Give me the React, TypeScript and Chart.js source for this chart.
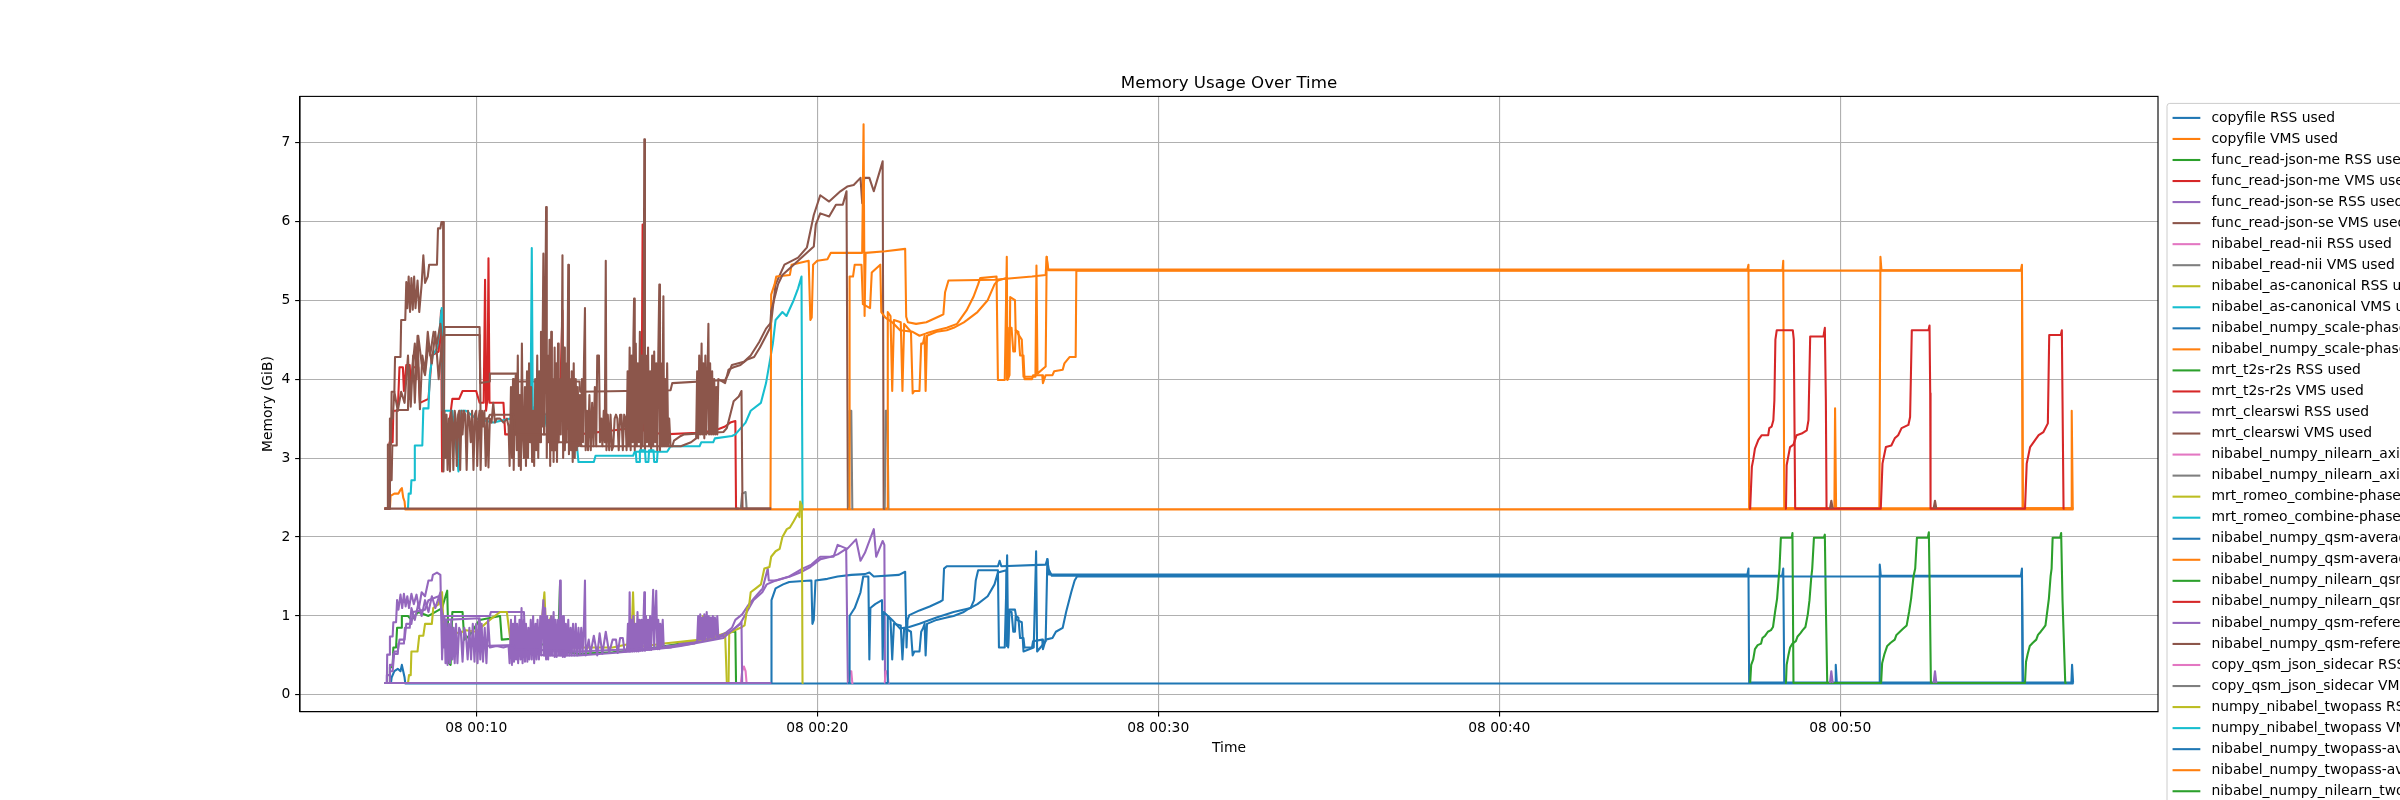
import React, { useEffect, useRef } from 'react';
import { Chart, registerables } from 'chart.js';

Chart.register(...registerables);

type Pt = [number, number | null];

// ---------- axis / label data ----------
const chartTitle = 'Memory Usage Over Time';
const xAxisTitle = 'Time';
const yAxisTitle = 'Memory (GiB)';
const xTickValues = [10, 20, 30, 40, 50]; // minutes past 00:00
const xTickLabels = ['08 00:10', '08 00:20', '08 00:30', '08 00:40', '08 00:50'];
const yTickValues = [0, 1, 2, 3, 4, 5, 6, 7];
const yTickLabels = ['0', '1', '2', '3', '4', '5', '6', '7'];
const xRange = [4.833, 59.32];
const yRange = [-0.213, 7.582];

const palette = ['#1f77b4', '#ff7f0e', '#2ca02c', '#d62728', '#9467bd', '#8c564b', '#e377c2', '#7f7f7f', '#bcbd22', '#17becf'];

const seriesNames = [
  'copyfile RSS used', 'copyfile VMS used',
  'func_read-json-me RSS used', 'func_read-json-me VMS used',
  'func_read-json-se RSS used', 'func_read-json-se VMS used',
  'nibabel_read-nii RSS used', 'nibabel_read-nii VMS used',
  'nibabel_as-canonical RSS used', 'nibabel_as-canonical VMS used',
  'nibabel_numpy_scale-phase RSS used', 'nibabel_numpy_scale-phase VMS used',
  'mrt_t2s-r2s RSS used', 'mrt_t2s-r2s VMS used',
  'mrt_clearswi RSS used', 'mrt_clearswi VMS used',
  'nibabel_numpy_nilearn_axial-mip RSS used', 'nibabel_numpy_nilearn_axial-mip VMS used',
  'mrt_romeo_combine-phase RSS used', 'mrt_romeo_combine-phase VMS used',
  'nibabel_numpy_qsm-average RSS used', 'nibabel_numpy_qsm-average VMS used',
  'nibabel_numpy_nilearn_qsm-mip RSS used', 'nibabel_numpy_nilearn_qsm-mip VMS used',
  'nibabel_numpy_qsm-reference RSS used', 'nibabel_numpy_qsm-reference VMS used',
  'copy_qsm_json_sidecar RSS used', 'copy_qsm_json_sidecar VMS used',
  'numpy_nibabel_twopass RSS used', 'numpy_nibabel_twopass VMS used',
  'nibabel_numpy_twopass-average RSS used', 'nibabel_numpy_twopass-average VMS used',
  'nibabel_numpy_nilearn_twopass-mip RSS used', 'nibabel_numpy_nilearn_twopass-mip VMS used',
  'nibabel_numpy_twopass-reference RSS used', 'nibabel_numpy_twopass-reference VMS used',
];

// ---------- series values: [minutes past 00:00, GiB] ----------
const copyfileRss: Pt[] = [[7.31,0.15],[7.5,0.15],[7.52,0.22],[7.6,0.3],[7.7,0.33],[7.78,0.3],[7.82,0.38],[7.86,0.3],[7.9,0.22],[7.92,0.145],[56.84,0.145]];
const copyfileVms: Pt[] = [[7.31,2.36],[7.47,2.36],[7.49,2.52],[7.6,2.55],[7.72,2.55],[7.78,2.6],[7.82,2.62],[7.86,2.5],[7.9,2.45],[7.92,2.35],[56.84,2.35]];

const jsonMeRss: Pt[] = [[7.31,0.15],[7.45,0.15],[7.47,0.35],[7.55,0.35],[7.57,0.6],[7.65,0.6],[7.68,0.85],[7.8,0.85],[7.82,1.0],[8.0,1.0],[8.1,0.95],[8.3,1.05],[8.6,1.0],[9.0,1.1],[9.1,1.25],[9.15,1.32],[9.2,0.4],[9.25,0.38],[9.3,1.05],[9.6,1.05],[9.65,0.7],[9.8,0.75],[10.1,0.95],[10.7,1.0],[10.75,0.7],[11.3,0.72],[11.8,0.65],[12.4,0.6],[12.46,1.43],[12.5,0.55],[13.0,0.52],[14.0,0.54],[15.0,0.58],[16.0,0.65],[17.0,0.72],[17.5,0.8],[17.6,0.8],[17.62,0.15],[17.7,0.15]];
const jsonMeVms: Pt[] = [[7.31,2.36],[7.45,2.36],[7.46,3.2],[7.55,3.2],[7.57,3.6],[7.7,3.6],[7.75,4.15],[7.85,4.15],[7.88,3.85],[7.95,4.18],[8.05,4.18],[8.08,3.9],[8.15,4.15],[8.3,4.15],[8.35,3.7],[8.6,3.75],[8.7,4.3],[8.9,4.35],[8.97,4.87],[9.0,2.83],[9.05,3.3],[9.2,3.4],[9.3,3.75],[9.5,3.75],[9.6,3.85],[10.0,3.85],[10.1,3.7],[10.22,3.7],[10.26,5.26],[10.29,3.6],[10.33,3.75],[10.36,5.53],[10.39,3.7],[10.8,3.7],[10.85,3.3],[11.2,3.3],[11.4,3.5],[12.0,3.55],[12.45,3.6],[12.53,4.87],[12.56,3.4],[13.0,3.3],[14.0,3.35],[14.85,3.4],[14.88,5.96],[14.91,3.35],[15.5,3.3],[16.5,3.32],[17.0,3.35],[17.3,3.4],[17.45,3.45],[17.6,3.47],[17.62,2.36],[17.7,2.36]];

const jsonSeRss: Pt[] = [[7.31,0.15],[7.38,0.15],[7.39,0.51],[7.45,0.51],[7.47,0.74],[7.55,0.74],[7.57,0.92],[7.65,0.92],[7.68,1.2],[7.72,1.08],[7.78,1.27],[7.83,1.1],[7.88,1.28],[7.93,1.12],[7.98,1.25],[8.03,1.1],[8.1,1.28],[8.17,1.15],[8.25,1.27],[8.32,1.1],[8.4,1.3],[8.5,1.25],[8.6,1.45],[8.7,1.45],[8.73,1.52],[8.85,1.55],[8.95,1.52],[9.0,0.45],[9.05,1.0],[10.4,1.0],[10.43,1.05],[11.4,1.05],[11.45,0.55],[12.0,0.5],[13.0,0.5],[14.0,0.53],[15.0,0.57],[15.7,0.6],[16.0,0.65],[16.5,0.68],[17.0,0.72],[17.3,0.75],[17.47,0.8],[17.74,0.9],[17.87,1.0],[18.13,1.2],[18.39,1.3],[18.52,1.4],[18.78,1.45],[19.18,1.5],[19.57,1.6],[19.83,1.65],[20.09,1.75],[20.48,1.75],[20.6,1.9],[20.88,1.85],[21.14,1.97],[21.27,1.7],[21.4,1.8],[21.66,2.1],[21.73,1.75],[21.92,1.95],[21.97,1.9],[21.99,0.15],[22.05,0.15]];
const jsonSeVms: Pt[] = [[7.31,2.36],[7.4,2.36],[7.41,3.17],[7.5,3.17],[7.52,3.84],[7.6,3.84],[7.62,4.28],[7.78,4.28],[7.8,4.75],[7.92,4.75],[7.95,5.23],[7.98,4.9],[8.02,5.3],[8.06,4.85],[8.1,5.28],[8.14,4.88],[8.18,5.3],[8.22,4.9],[8.28,5.25],[8.33,4.85],[8.4,5.2],[8.45,5.57],[8.5,5.22],[8.58,5.3],[8.62,5.45],[8.85,5.45],[8.88,5.91],[8.95,5.91],[8.98,5.99],[9.03,5.99],[9.05,3.0],[9.07,4.66],[10.1,4.66],[10.12,3.95],[10.38,3.97],[10.4,4.07],[11.2,4.07],[11.22,3.97],[13.03,3.97],[13.05,3.84],[15.7,3.86],[15.75,3.95],[17.3,3.99],[17.38,4.05],[17.5,4.18],[17.85,4.22],[18.05,4.3],[18.3,4.47],[18.5,4.64],[18.65,4.72],[18.78,5.2],[19.04,5.45],[19.44,5.54],[19.7,5.67],[19.9,6.08],[20.09,6.33],[20.35,6.25],[20.68,6.38],[20.88,6.44],[21.07,6.46],[21.27,6.55],[21.32,6.23],[21.38,6.55],[21.53,6.55],[21.66,6.38],[21.86,6.67],[21.92,6.76],[21.95,2.36],[22.0,2.36]];

const readNiiRss: Pt[] = [[17.76,0.15],[17.8,0.3],[17.85,0.36],[17.9,0.3],[17.93,0.15],[17.96,0.15]];
const readNiiVms: Pt[] = [[17.76,2.36],[17.8,2.55],[17.9,2.57],[17.93,2.36],[17.96,2.36]];

const asCanonicalRss: Pt[] = [[8.0,0.15],[8.03,0.25],[8.08,0.25],[8.1,0.55],[8.28,0.55],[8.33,0.75],[8.45,0.75],[8.5,0.9],[8.7,0.9],[8.74,1.1],[8.9,1.15],[8.94,1.25],[9.0,1.3],[9.05,0.75],[9.3,0.8],[9.5,0.78],[9.7,0.82],[10.0,0.8],[10.4,0.95],[10.7,1.05],[10.9,1.05],[11.0,0.7],[11.5,0.75],[11.9,0.8],[12.0,1.3],[12.05,0.8],[12.2,1.0],[12.25,0.6],[13.0,0.6],[14.0,0.6],[14.55,0.65],[14.6,1.3],[14.65,0.6],[15.5,0.65],[16.6,0.7],[16.65,1.0],[16.7,0.7],[17.3,0.78],[17.35,0.15],[17.4,0.15]];
const asCanonicalVms: Pt[] = [[8.0,2.36],[8.02,2.55],[8.08,2.55],[8.1,2.72],[8.18,2.72],[8.2,3.16],[8.42,3.16],[8.45,3.63],[8.6,3.63],[8.64,4.05],[8.72,4.3],[8.85,4.39],[8.92,4.6],[8.99,4.9],[9.02,3.6],[9.3,3.6],[9.48,2.83],[9.52,3.6],[9.7,3.6],[10.0,3.5],[10.5,3.45],[11.0,3.5],[11.55,3.7],[11.6,3.9],[11.63,5.66],[11.66,3.6],[11.9,3.8],[12.0,3.4],[12.2,3.9],[12.4,3.5],[12.6,3.7],[12.9,3.4],[13.0,2.95],[13.45,2.95],[13.5,3.03],[14.6,3.03],[14.65,3.08],[15.6,3.08],[15.7,3.15],[16.55,3.15],[16.6,3.2],[16.95,3.2],[17.0,3.25],[17.5,3.28],[17.6,3.3],[17.9,3.45],[18.05,3.6],[18.35,3.7],[18.5,3.95],[18.6,4.2],[18.7,4.45],[18.78,4.75],[18.98,4.85],[19.1,4.8],[19.31,5.0],[19.44,5.15],[19.54,5.3],[19.57,2.36],[19.6,2.36]];

const scalePhaseRss: Pt[] = [[18.6,0.15],[18.65,0.15],[18.66,1.2],[18.78,1.35],[19.0,1.4],[19.18,1.43],[19.8,1.45],[19.83,1.45],[19.86,0.9],[19.9,0.95],[19.95,1.45],[20.3,1.47],[20.6,1.5],[21.0,1.52],[21.4,1.53],[21.53,1.55],[21.66,1.5],[22.4,1.52],[22.58,1.56],[22.62,0.6],[22.65,0.95],[22.7,1.01],[23.0,1.07],[23.3,1.12],[23.6,1.18],[23.68,1.2],[23.72,1.6],[23.8,1.63],[25.3,1.63],[25.35,1.7],[25.4,1.63],[26.7,1.65],[26.75,1.72],[26.78,1.6],[26.88,1.51],[48.3,1.51],[48.33,1.6],[48.36,0.15],[51.14,0.15],[51.16,1.65],[51.19,1.51],[55.3,1.51],[55.33,1.6],[55.36,0.15],[56.84,0.15]];
const scalePhaseVms: Pt[] = [[18.6,2.36],[18.63,2.36],[18.65,5.07],[18.75,5.2],[18.8,5.3],[19.2,5.32],[19.25,5.45],[19.75,5.5],[19.8,4.75],[19.84,4.78],[19.88,5.45],[20.0,5.5],[20.3,5.52],[20.4,5.6],[21.32,5.6],[21.36,7.23],[21.39,4.8],[21.42,5.6],[22.0,5.62],[22.58,5.65],[22.61,4.79],[22.66,4.72],[22.9,4.7],[23.2,4.72],[23.6,4.8],[23.7,4.82],[23.75,5.1],[23.85,5.25],[25.2,5.26],[26.3,5.3],[26.7,5.32],[26.73,5.55],[26.78,5.38],[48.31,5.38],[48.33,5.5],[48.36,2.36],[51.15,2.36],[51.18,5.55],[51.21,5.38],[55.3,5.38],[55.33,5.45],[55.36,2.36],[56.84,2.36]];

const t2sRss: Pt[] = [];
const t2sVms: Pt[] = [];

const clearswiRss: Pt[] = [[7.37,0.15],[7.38,0.25],[7.45,0.25],[7.47,0.38],[7.55,0.38],[7.57,0.52],[7.7,0.52],[7.72,0.65],[7.88,0.65],[7.91,0.85],[8.05,0.85],[8.1,1.1],[8.2,0.95],[8.3,1.15],[8.4,1.0],[8.5,1.2],[8.6,1.05],[8.7,1.25],[8.8,1.1],[8.95,1.3],
  [9.04,0.6],[9.07,1.0],[9.1,0.4],[9.13,0.95],[9.16,0.38],[9.2,0.9],[9.23,0.4],[9.27,0.95],[9.3,0.45],[9.34,0.85],[9.37,0.4],[9.41,0.9],[9.45,0.4],[9.5,0.85],[9.55,0.8],[9.6,0.42],[9.65,0.85],[9.7,0.75],[9.75,0.45],[9.8,0.85],[9.85,0.45],[9.9,0.9],[9.95,0.42],[10.0,0.9],[10.04,0.4],[10.08,0.95],[10.12,0.45],[10.16,0.9],[10.2,0.42],[10.25,0.85],[10.3,0.4],[10.35,0.95],[10.4,0.6],[10.6,0.62],[10.8,0.6],[10.95,0.62],
  [10.98,0.4],[11.02,0.95],[11.05,0.38],[11.08,0.9],[11.11,0.42],[11.14,1.0],[11.17,0.45],[11.2,0.9],[11.23,0.4],[11.27,0.95],[11.3,0.45],[11.33,1.1],[11.36,0.4],[11.4,0.95],[11.43,0.42],[11.46,0.9],[11.5,0.42],[11.53,0.85],[11.56,0.45],[11.6,0.95],[11.63,0.45],[11.67,1.0],[11.7,0.4],[11.74,0.9],[11.77,0.45],[11.8,0.95],[11.84,0.45],[11.88,1.0],[11.91,0.5],[11.94,1.0],[11.97,1.2],[11.99,0.5],[12.02,1.1],[12.05,0.45],[12.08,1.0],[12.11,0.45],[12.14,0.95],[12.17,0.5],[12.2,1.0],[12.23,0.5],[12.27,1.05],[12.3,0.48],[12.33,0.95],[12.36,0.48],[12.4,0.95],[12.43,0.5],[12.46,1.45],[12.48,0.5],[12.51,1.0],[12.54,0.48],[12.57,1.0],[12.6,0.48],[12.63,0.9],[12.66,0.5],[12.7,0.95],[12.73,0.5],[12.77,0.85],[12.8,0.5],[12.84,0.9],[12.88,0.5],[12.92,0.9],[12.96,0.5],[13.0,0.85],[13.04,0.52],[13.08,0.85],[13.12,0.52],[13.16,0.9],[13.19,1.45],[13.21,0.5],
  [13.3,0.7],[13.35,0.52],[13.45,0.75],[13.55,0.5],[13.62,0.78],[13.7,0.52],[13.8,0.8],[13.9,0.53],[14.0,0.7],[14.1,0.7],[14.15,0.53],[14.22,0.72],[14.3,0.72],[14.35,0.55],
  [14.42,0.55],[14.45,0.9],[14.48,0.55],[14.5,1.3],[14.52,0.55],[14.55,0.95],[14.58,0.55],[14.61,1.0],[14.64,0.55],[14.67,0.9],[14.7,0.55],[14.73,1.05],[14.76,0.55],[14.79,0.95],[14.82,0.56],[14.85,0.95],[14.88,0.56],[14.91,1.0],[14.93,1.3],[14.95,0.56],[14.98,1.0],[15.01,0.57],[15.04,0.95],[15.07,0.57],[15.1,1.0],[15.13,0.57],[15.16,0.95],[15.19,1.33],[15.22,0.6],[15.25,1.0],[15.28,1.32],[15.31,0.58],[15.34,0.95],[15.37,0.58],[15.4,0.9],[15.43,0.6],[15.47,0.95],[15.5,0.6],[15.6,0.62],[16.0,0.63],[16.4,0.65],
  [16.48,0.68],[16.51,1.0],[16.54,0.7],[16.57,1.02],[16.6,0.7],[16.63,0.98],[16.66,0.7],[16.69,1.02],[16.72,0.7],[16.76,1.05],[16.79,0.7],[16.82,1.0],[16.85,0.72],[16.88,0.98],[16.91,0.72],[16.94,1.0],[16.97,0.72],[17.0,0.98],[17.04,0.74],[17.07,1.0],[17.1,0.74],
  [17.3,0.78],[17.5,0.85],[17.6,0.95],[17.8,1.02],[18.0,1.15],[18.2,1.25],[18.4,1.35],[18.55,1.6],[18.58,1.45],[18.8,1.45],[19.2,1.5],[19.5,1.55],[19.8,1.62],[20.1,1.72],[20.4,1.75],[20.6,1.78],[20.85,1.85],[20.9,0.15],[20.95,0.15]];
const clearswiVms: Pt[] = [[7.45,2.36],[7.47,3.5],[7.55,3.5],[7.6,3.84],[7.7,3.6],[7.8,3.84],[7.9,3.7],[8.0,4.3],[8.05,3.75],[8.1,4.0],[8.2,4.45],[8.25,4.0],[8.3,4.55],[8.4,4.2],[8.5,4.05],[8.6,4.45],[8.7,4.2],[8.8,4.6],[8.9,4.0],[9.0,4.5],
  [9.04,2.83],[9.07,3.6],[9.1,3.0],[9.13,3.55],[9.16,2.85],[9.2,3.5],[9.23,2.83],[9.27,3.6],[9.3,3.45],[9.33,2.85],[9.37,3.6],[9.4,3.5],[9.43,2.9],[9.47,3.55],[9.5,3.6],[9.53,2.85],[9.57,3.6],[9.6,3.3],[9.64,3.6],[9.68,3.55],[9.72,2.85],[9.76,3.6],[9.8,3.5],[9.84,3.2],[9.88,3.6],[9.92,2.85],[9.96,3.55],[10.0,3.6],[10.03,2.9],[10.07,3.5],[10.1,3.6],[10.13,2.85],[10.17,3.6],[10.2,3.4],[10.24,3.6],[10.28,2.9],[10.32,3.5],[10.36,2.88],[10.4,3.5],[10.45,3.45],[10.5,3.7],[10.55,3.45],[10.6,3.5],[10.7,3.5],[10.8,3.45],[10.9,3.5],[10.95,3.4],
  [10.98,2.9],[11.02,3.9],[11.05,3.0],[11.08,4.0],[11.1,2.85],[11.13,3.7],[11.16,4.05],[11.19,3.1],[11.22,4.3],[11.25,2.9],[11.28,3.8],[11.31,2.85],[11.34,4.45],[11.37,3.3],[11.4,3.0],[11.43,3.9],[11.46,2.9],[11.49,4.1],[11.52,3.0],[11.55,4.2],[11.58,3.2],[11.61,3.9],[11.64,2.95],[11.67,3.6],[11.7,2.9],[11.73,4.0],[11.76,3.1],[11.79,4.3],[11.82,3.0],[11.85,4.1],[11.88,3.2],[11.9,4.6],[11.93,3.4],[11.95,4.55],[11.97,5.59],[11.99,3.3],[12.02,4.5],[12.05,6.18],[12.07,3.0],[12.1,4.3],[12.12,3.2],[12.15,4.5],[12.17,2.9],[12.2,4.6],[12.22,3.1],[12.25,4.0],[12.27,2.95],[12.3,4.4],[12.32,3.1],[12.35,4.2],[12.37,2.95],[12.4,4.45],[12.42,3.2],[12.45,4.0],[12.48,3.3],[12.51,4.3],[12.53,5.57],[12.55,3.0],[12.58,4.4],[12.6,3.1],[12.63,4.2],[12.65,3.2],[12.68,4.3],[12.7,5.45],[12.72,3.05],[12.75,4.0],[12.78,3.1],[12.8,4.1],[12.83,2.95],[12.86,4.2],[12.89,3.0],[12.92,4.0],[12.95,3.1],[12.98,3.9],[13.01,3.15],[13.04,3.8],[13.07,3.15],[13.1,4.0],[13.13,3.2],[13.16,4.2],[13.19,4.9],[13.21,3.1],
  [13.25,3.6],[13.28,3.1],[13.32,3.8],[13.36,3.1],[13.4,3.7],[13.44,3.15],[13.48,3.9],[13.52,3.15],[13.55,4.3],[13.6,4.3],[13.63,3.2],[13.67,3.5],[13.7,3.15],[13.74,3.6],[13.77,3.2],[13.8,5.5],[13.82,3.1],[13.86,3.55],[13.9,3.1],[13.94,3.55],[13.98,3.1],[14.02,3.15],[14.06,3.5],[14.1,3.55],[14.14,3.5],[14.18,3.1],[14.22,3.55],[14.26,3.55],[14.3,3.1],[14.34,3.55],[14.38,3.5],
  [14.41,3.1],[14.44,4.1],[14.47,3.15],[14.5,4.4],[14.53,3.1],[14.56,4.3],[14.59,3.2],[14.61,4.5],[14.63,5.02],[14.65,3.1],[14.68,4.45],[14.71,3.15],[14.74,4.2],[14.77,3.2],[14.8,4.6],[14.83,3.1],[14.86,4.3],[14.88,3.15],[14.91,4.5],[14.93,7.04],[14.95,3.1],[14.98,4.3],[15.01,3.2],[15.04,4.4],[15.07,3.15],[15.1,4.1],[15.13,3.1],[15.16,4.3],[15.19,3.15],[15.22,4.35],[15.25,3.2],[15.28,4.2],[15.31,3.1],[15.34,4.3],[15.37,5.2],[15.39,3.1],[15.42,4.2],[15.45,3.15],[15.49,5.05],[15.51,3.15],[15.54,4.0],[15.57,3.15],[15.6,4.2],[15.63,3.15],[15.66,3.5],[15.7,3.15],[16.0,3.15],[16.3,3.2],
  [16.45,3.25],[16.48,4.1],[16.51,3.25],[16.54,4.3],[16.57,3.3],[16.61,4.45],[16.63,3.3],[16.66,4.2],[16.69,3.25],[16.72,4.3],[16.75,3.3],[16.78,4.0],[16.81,4.7],[16.83,3.3],[16.86,4.2],[16.89,3.3],[16.92,4.1],[16.95,3.3],[16.98,4.0],[17.01,3.3],[17.04,3.9],[17.07,3.3],[17.1,4.0],
  [17.3,3.95],[17.4,4.12],[17.55,4.15],[17.75,4.18],[17.95,4.25],[18.15,4.28],[18.32,4.4],[18.5,4.55],[18.62,4.65],[18.65,4.86],[18.85,5.2],[18.98,5.32],[19.31,5.45],[19.57,5.55],[19.9,5.68],[19.96,5.96],[20.09,6.1],[20.35,6.06],[20.55,6.21],[20.75,6.21],[20.86,6.38],[20.9,2.36],[20.95,2.36]];

const axialRss: Pt[] = [[20.92,0.15],[20.95,0.3],[21.0,0.3],[21.03,0.15],[21.06,0.15]];
const axialVms: Pt[] = [[20.92,2.36],[20.95,3.6],[21.0,3.6],[21.03,2.36],[21.06,2.36]];

const romeoRss: Pt[] = [[17.4,0.15],[17.42,0.78],[17.6,0.82],[17.75,0.85],[17.87,0.88],[17.95,1.1],[18.0,1.12],[18.05,1.3],[18.2,1.35],[18.35,1.4],[18.45,1.6],[18.6,1.62],[18.65,1.75],[18.78,1.82],[18.9,1.85],[18.98,2.0],[19.11,2.1],[19.2,2.12],[19.31,2.2],[19.44,2.3],[19.48,2.25],[19.5,2.45],[19.55,2.4],[19.57,0.15],[19.6,0.15]];
const romeoVms: Pt[] = [[14.68,3.08],[14.7,2.95],[14.78,2.95],[14.8,3.1],[14.95,3.1],[14.97,2.95],[15.05,2.95],[15.07,3.1],[15.2,3.1],[15.22,2.95],[15.3,2.95],[15.32,3.08]];

const qsmAverageRss: Pt[] = [[20.9,0.15],[20.94,0.15],[20.95,1.0],[21.1,1.1],[21.27,1.3],[21.35,1.5],[21.5,1.5],[21.53,0.45],[21.56,1.1],[21.7,1.15],[21.9,1.2],[21.92,0.45],[21.95,1.05],[22.2,0.95],[22.43,0.84],[22.7,0.86],[23.0,0.9],[23.5,0.98],[24.0,1.05],[24.5,1.1],[24.6,1.2],[24.65,1.45],[24.72,1.58],[25.3,1.58],[25.33,0.6],[25.5,0.6],[25.57,1.77],[25.6,0.6],[25.64,1.08],[25.8,1.08],[25.85,0.95],[26.0,0.92],[26.05,0.55],[26.35,0.6],[26.42,1.82],[26.45,0.55],[26.7,0.68],[26.75,1.72],[26.8,1.525],[47.28,1.525],[47.31,1.6],[47.33,0.155],[49.85,0.155],[49.87,0.38],[49.9,0.155],[56.78,0.155],[56.8,0.38],[56.83,0.155],[56.84,0.155]];
const qsmAverageVms: Pt[] = [[20.9,2.36],[20.94,2.36],[20.95,5.3],[21.05,5.3],[21.1,5.45],[21.3,5.45],[21.34,4.95],[21.55,4.9],[21.6,5.35],[21.85,5.45],[21.88,4.85],[22.0,4.78],[22.2,4.72],[22.43,4.62],[22.8,4.6],[23.0,4.55],[23.2,4.58],[23.5,4.62],[23.8,4.65],[24.1,4.7],[24.38,4.87],[24.58,5.04],[24.72,5.2],[24.78,5.28],[25.26,5.3],[25.3,3.99],[25.5,3.99],[25.56,5.55],[25.58,3.99],[25.64,4.05],[25.66,5.04],[25.8,5.0],[25.82,4.62],[26.0,4.5],[26.05,4.03],[26.4,4.03],[26.43,5.44],[26.46,4.07],[26.7,4.16],[26.73,5.55],[26.76,5.39],[47.28,5.39],[47.31,5.45],[47.33,2.365],[49.83,2.365],[49.85,3.63],[49.88,2.365],[56.77,2.365],[56.79,3.6],[56.82,2.365],[56.84,2.365]];

const nilearnQsmRss: Pt[] = [[48.38,0.15],[48.41,0.15],[48.43,0.38],[48.48,0.5],[48.53,0.6],[48.6,0.65],[48.7,0.68],[48.75,0.74],[48.83,0.78],[48.9,0.82],[48.98,0.86],[49.05,1.02],[49.1,1.2],[49.15,1.48],[49.18,1.6],[49.23,1.99],[49.52,1.99],[49.55,2.03],[49.58,1.12],[49.62,0.15],[49.66,0.15]];
const nilearnQsmVms: Pt[] = [[48.38,2.36],[48.41,2.36],[48.43,2.91],[48.53,3.14],[48.63,3.17],[48.72,3.29],[48.87,3.31],[49.02,3.35],[49.07,3.48],[49.12,4.54],[49.51,4.54],[49.55,4.65],[49.58,3.73],[49.6,2.36],[49.64,2.36]];

const qsmReferenceRss: Pt[] = [[7.31,0.15],[7.45,0.15],[7.47,0.3],[7.55,0.3],[7.6,0.55],[7.7,0.55],[7.75,0.7],[7.9,0.7],[7.95,0.9],[8.1,0.9],[8.15,1.05],[8.5,1.08],[8.6,1.2],[8.9,1.25],[9.05,0.95],[10.1,0.97],[10.15,0.62],[11.1,0.63],[11.15,0.58],[13.0,0.55],[15.7,0.6],[16.0,0.62],[17.25,0.72],[17.45,0.8],[17.6,0.85],[17.78,0.92],[17.8,0.15],[18.65,0.15]];
const qsmReferenceVms: Pt[] = [[7.31,2.36],[7.45,2.36],[7.46,2.72],[7.52,2.72],[7.54,3.16],[7.65,3.16],[7.67,3.61],[8.0,3.61],[8.02,4.15],[8.08,3.65],[8.15,4.3],[8.2,3.7],[8.28,4.55],[8.35,3.62],[8.42,4.3],[8.5,4.1],[8.58,4.6],[8.65,4.3],[8.75,4.6],[8.85,4.45],[8.95,4.7],[9.0,4.5],[9.08,4.56],[10.1,4.56],[10.13,3.5],[10.35,3.5],[10.4,3.55],[11.1,3.55],[11.15,3.3],[12.1,3.3],[12.15,3.2],[13.05,3.2],[13.1,3.15],[15.75,3.15],[15.8,3.22],[16.0,3.28],[16.1,3.3],[17.25,3.33],[17.35,3.38],[17.45,3.55],[17.55,3.72],[17.7,3.78],[17.78,3.85],[17.81,2.36],[18.65,2.36]];

const copyJsonRss: Pt[] = [[21.98,0.15],[22.01,0.3],[22.06,0.3],[22.09,0.15],[22.12,0.15]];
const copyJsonVms: Pt[] = [[21.98,2.36],[22.01,3.6],[22.06,3.6],[22.09,2.36],[22.12,2.36]];

const twopassRss: Pt[] = [];
const twopassVms: Pt[] = [];

const twopassAvRss: Pt[] = [[22.0,0.15],[22.05,0.15],[22.07,1.0],[22.15,0.95],[22.2,0.45],[22.25,0.9],[22.45,0.88],[22.5,0.45],[22.55,0.85],[22.75,0.8],[22.8,0.5],[22.85,0.55],[23.0,0.55],[23.05,0.8],[23.1,0.84],[23.15,0.9],[23.18,0.5],[23.22,0.9],[23.5,0.95],[23.8,0.98],[24.0,1.0],[24.3,1.05],[24.4,1.08],[24.7,1.15],[25.0,1.25],[25.2,1.4],[25.3,1.55],[25.55,1.58],[25.56,0.62],[25.6,0.62],[25.63,1.05],[25.7,1.05],[25.75,0.8],[25.8,0.8],[25.82,1.0],[25.9,0.98],[25.95,0.72],[26.05,0.72],[26.08,0.6],[26.3,0.6],[26.33,0.68],[26.6,0.7],[26.62,0.58],[26.7,0.7],[26.9,0.72],[27.0,0.8],[27.2,0.85],[27.3,1.05],[27.45,1.3],[27.55,1.45],[27.62,1.5],[55.33,1.5],[55.35,0.15],[56.84,0.15]];
const twopassAvVms: Pt[] = [[22.0,2.36],[22.05,2.36],[22.07,4.85],[22.15,4.8],[22.2,3.85],[22.25,4.75],[22.45,4.72],[22.5,3.85],[22.55,4.7],[22.75,4.6],[22.8,3.82],[22.85,3.85],[23.0,3.85],[23.05,4.45],[23.1,4.45],[23.15,4.55],[23.18,3.85],[23.22,4.55],[23.5,4.6],[23.8,4.62],[24.0,4.65],[24.3,4.72],[24.4,4.75],[24.7,4.85],[25.0,5.0],[25.2,5.2],[25.3,5.25],[25.55,5.28],[25.56,4.0],[25.6,4.0],[25.63,4.65],[25.7,4.65],[25.75,4.35],[25.8,4.35],[25.82,4.62],[25.9,4.6],[25.95,4.3],[26.05,4.3],[26.08,4.0],[26.3,4.0],[26.33,4.05],[26.6,4.05],[26.62,3.95],[26.7,4.05],[26.9,4.05],[26.95,4.1],[27.2,4.12],[27.25,4.2],[27.4,4.28],[27.58,4.28],[27.6,5.375],[55.33,5.375],[55.35,2.36],[56.84,2.36]];

const nilearnTwoRss: Pt[] = [[47.36,0.15],[47.39,0.38],[47.45,0.45],[47.5,0.58],[47.58,0.63],[47.68,0.65],[47.72,0.72],[47.8,0.75],[47.88,0.8],[47.97,0.82],[48.03,0.86],[48.09,1.05],[48.15,1.22],[48.2,1.5],[48.22,1.6],[48.26,1.99],[48.58,1.99],[48.6,2.05],[48.63,0.15],[51.2,0.15],[51.23,0.4],[51.3,0.52],[51.38,0.62],[51.48,0.66],[51.6,0.7],[51.65,0.76],[51.75,0.8],[51.85,0.84],[51.95,0.88],[52.02,1.05],[52.08,1.22],[52.15,1.5],[52.2,1.6],[52.25,1.99],[52.57,1.99],[52.6,2.06],[52.63,1.2],[52.66,0.15],[55.42,0.15],[55.45,0.42],[55.5,0.52],[55.56,0.62],[55.65,0.66],[55.75,0.7],[55.8,0.76],[55.88,0.8],[55.95,0.84],[56.02,0.88],[56.07,1.05],[56.12,1.22],[56.17,1.5],[56.2,1.6],[56.23,1.99],[56.45,1.99],[56.48,2.05],[56.52,1.2],[56.6,0.15],[56.64,0.15]];
const nilearnTwoVms: Pt[] = [[47.33,2.36],[47.36,2.36],[47.41,2.89],[47.45,2.98],[47.5,3.12],[47.6,3.23],[47.7,3.29],[47.89,3.29],[47.92,3.38],[47.99,3.4],[48.04,3.48],[48.07,3.73],[48.1,4.5],[48.14,4.62],[48.61,4.62],[48.64,4.5],[48.68,2.36],[51.19,2.36],[51.24,2.93],[51.34,3.14],[51.5,3.16],[51.6,3.25],[51.7,3.29],[51.8,3.38],[52.0,3.42],[52.05,3.52],[52.1,4.62],[52.59,4.62],[52.62,4.68],[52.64,3.82],[52.65,2.36],[55.42,2.36],[55.47,2.93],[55.57,3.14],[55.72,3.23],[55.82,3.29],[55.96,3.33],[56.09,3.44],[56.13,4.56],[56.47,4.56],[56.5,4.62],[56.52,3.73],[56.55,2.36],[56.58,2.36]];

const twopassRefRss: Pt[] = [[7.31,0.15],[18.65,0.15],[18.66,null],[49.7,0.15],[49.74,0.3],[49.78,0.15],[49.8,null],[52.74,0.15],[52.78,0.3],[52.82,0.15]];
const twopassRefVms: Pt[] = [[7.31,2.36],[18.65,2.36],[18.66,null],[49.7,2.36],[49.74,2.46],[49.78,2.36],[49.8,null],[52.74,2.36],[52.78,2.46],[52.82,2.36]];

const seriesValues: Pt[][] = [
  copyfileRss, copyfileVms, jsonMeRss, jsonMeVms, jsonSeRss, jsonSeVms,
  readNiiRss, readNiiVms, asCanonicalRss, asCanonicalVms, scalePhaseRss, scalePhaseVms,
  t2sRss, t2sVms, clearswiRss, clearswiVms, axialRss, axialVms, romeoRss, romeoVms,
  qsmAverageRss, qsmAverageVms, nilearnQsmRss, nilearnQsmVms, qsmReferenceRss, qsmReferenceVms,
  copyJsonRss, copyJsonVms, twopassRss, twopassVms, twopassAvRss, twopassAvVms,
  nilearnTwoRss, nilearnTwoVms, twopassRefRss, twopassRefVms,
];

// ---------- styling ----------
const FONT = 'DejaVu Sans';
const PT = 100 / 72;
const tickFont = { family: FONT, size: 10 * PT, lineHeight: 1.2 };
const labelFont = { family: FONT, size: 10 * PT, lineHeight: 1.2 };
const titleFont = { family: FONT, size: 12 * PT, lineHeight: 1.2, weight: 'normal' as const };

const framePlugin = {
  id: 'mplFrame',
  afterDatasetsDraw(chart: any) {
    const { ctx, chartArea: a } = chart;
    ctx.save();
    ctx.strokeStyle = '#000';
    ctx.lineWidth = 0.8 * PT;
    ctx.strokeRect(a.left, a.top, a.right - a.left, a.bottom - a.top);
    ctx.restore();
  },
};

const legendPlugin = {
  id: 'mplLegend',
  afterDraw(chart: any) {
    const { ctx, chartArea: a } = chart;
    const em = 10 * PT;
    const left = a.right + 9;
    const top = a.top + 7;
    ctx.save();
    const w = 700, h = 900, r = 0.2 * em;
    ctx.beginPath();
    ctx.moveTo(left + r, top);
    ctx.lineTo(left + w, top);
    ctx.lineTo(left + w, top + h);
    ctx.lineTo(left, top + h);
    ctx.lineTo(left, top + r);
    ctx.quadraticCurveTo(left, top, left + r, top);
    ctx.closePath();
    ctx.fillStyle = 'rgba(255,255,255,0.8)';
    ctx.fill();
    ctx.strokeStyle = '#cccccc';
    ctx.lineWidth = 1;
    ctx.stroke();
    ctx.font = `${em}px "${FONT}"`;
    ctx.textBaseline = 'middle';
    ctx.textAlign = 'left';
    chart.data.datasets.forEach((ds: any, i: number) => {
      const cy = top + 0.4 * em + 0.5 * em * 1.03 + 1.8 + i * 1.515 * em;
      ctx.strokeStyle = ds.borderColor;
      ctx.lineWidth = 1.5 * PT;
      ctx.lineCap = 'butt';
      ctx.beginPath();
      ctx.moveTo(left + 0.4 * em, cy);
      ctx.lineTo(left + 2.4 * em, cy);
      ctx.stroke();
      ctx.fillStyle = '#000';
      ctx.fillText(ds.label, left + 3.2 * em, cy);
    });
    ctx.restore();
  },
};

export default function App() {
  const canvasRef = useRef<HTMLCanvasElement | null>(null);

  useEffect(() => {
    const canvas = canvasRef.current;
    if (!canvas) return;
    const gridCommon = {
      color: '#b0b0b0',
      lineWidth: 0.8 * PT,
      tickColor: '#000',
      tickLength: 3.5 * PT,
      tickWidth: 0.8 * PT,
      drawOnChartArea: true,
    };
    const chart = new Chart(canvas, {
      type: 'line',
      data: {
        datasets: seriesValues.map((pts, i) => ({
          label: seriesNames[i],
          data: pts.map(([x, y]) => ({ x, y })),
          borderColor: palette[i % 10],
          backgroundColor: palette[i % 10],
          borderWidth: 1.5 * PT,
          pointRadius: 0,
          pointHoverRadius: 0,
          tension: 0,
          fill: false,
          spanGaps: false,
          clip: 0,
          order: -i,
          borderJoinStyle: 'round',
          borderCapStyle: 'butt',
        })),
      },
      options: {
        animation: false,
        responsive: false,
        devicePixelRatio: 1,
        events: [],
        layout: { autoPadding: false, padding: { left: 0, right: 242, top: 0, bottom: 0 } },
        plugins: {
          legend: { display: false },
          tooltip: { enabled: false },
          title: {
            display: true,
            text: chartTitle,
            color: '#000',
            font: titleFont,
            fullSize: false,
            padding: { top: 74, bottom: 2.4 },
          },
        },
        scales: {
          x: {
            type: 'linear',
            min: xRange[0],
            max: xRange[1],
            afterFit: (s: any) => { s.height = 88.3; },
            afterBuildTicks: (s: any) => { s.ticks = xTickValues.map((v) => ({ value: v })); },
            ticks: {
              callback: (v: any) => xTickLabels[xTickValues.indexOf(Number(v))] ?? '',
              color: '#000',
              font: tickFont,
              padding: 3.7,
              maxRotation: 0,
              autoSkip: false,
            },
            grid: gridCommon,
            border: { display: true, color: '#000', width: 0.8 * PT },
            title: { display: true, text: xAxisTitle, color: '#000', font: labelFont, padding: { top: 0, bottom: 43.5 } },
          },
          y: {
            type: 'linear',
            min: yRange[0],
            max: yRange[1],
            afterFit: (s: any) => { s.width = 300; },
            afterBuildTicks: (s: any) => { s.ticks = yTickValues.map((v) => ({ value: v })); },
            ticks: {
              callback: (v: any) => yTickLabels[yTickValues.indexOf(Number(v))] ?? '',
              color: '#000',
              font: tickFont,
              padding: 3.5 * PT,
              autoSkip: false,
            },
            grid: gridCommon,
            border: { display: true, color: '#000', width: 0.8 * PT },
            title: { display: true, text: yAxisTitle, color: '#000', font: labelFont, padding: { top: 259.7, bottom: 0 } },
          },
        },
      } as any,
      plugins: [framePlugin, legendPlugin],
    });
    return () => chart.destroy();
  }, []);

  return (
    <div style={{ position: 'absolute', left: 0, top: 0, width: 2400, height: 800, background: '#fff' }}>
      <canvas ref={canvasRef} width={2400} height={800} style={{ width: 2400, height: 800, display: 'block' }} />
    </div>
  );
}
